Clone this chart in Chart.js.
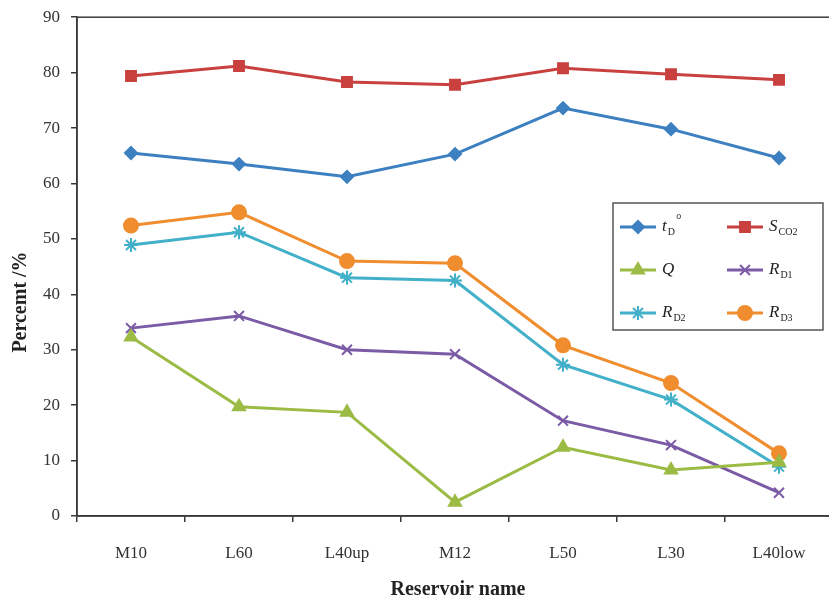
<!DOCTYPE html>
<html lang="en">
<head>
    <meta charset="UTF-8">
    <title>Reservoir percent chart</title>
    <script src="https://cdn.jsdelivr.net/npm/chart.js"></script>
    <style>
        html, body { margin: 0; padding: 0; background: #fff; overflow: hidden; }
        #wrap { width: 842px; height: 607px; margin-top: -4px; }
    </style>
</head>
<body>
    <div id="wrap"><canvas id="chart" width="842" height="607"></canvas></div>

    <script>
        // Data
        const reservoirs = ['M10', 'L60', 'L40up', 'M12', 'L50', 'L30', 'L40low'];
        const yTicks = [0, 10, 20, 30, 40, 50, 60, 70, 80, 90];

        const tD  = [65.5, 63.5, 61.2, 65.3, 73.6, 69.8, 64.6];
        const sCO2 = [79.4, 81.2, 78.3, 77.8, 80.8, 79.7, 78.7];
        const q   = [32.3, 19.7, 18.7, 2.5, 12.4, 8.3, 9.7];
        const rD1 = [33.9, 36.1, 30.0, 29.2, 17.2, 12.8, 4.2];
        const rD2 = [48.9, 51.2, 43.0, 42.5, 27.3, 21.0, 8.9];
        const rD3 = [52.4, 54.8, 46.0, 45.6, 30.8, 24.0, 11.3];

        // legend labels: [main letter, subscript, superscript]
        const legendLabels = [
            ['t', 'D', '°'], ['S', 'CO2', ''],
            ['Q', '', ''],   ['R', 'D1', ''],
            ['R', 'D2', ''], ['R', 'D3', '']
        ];

        const serif = '"Liberation Serif", "DejaVu Serif", serif';
        const dy = 4; // canvas is shifted up by this much

        function series(data, color, style, radius) {
            return {
                data: data,
                borderColor: color,
                backgroundColor: color,
                pointBackgroundColor: color,
                pointBorderColor: color,
                pointStyle: style,
                pointRadius: radius,
                pointBorderWidth: 2,
                borderWidth: 3,
                tension: 0
            };
        }

        const datasets = [
            series(tD,   '#3d80c1', 'rectRot', 6),
            series(sCO2, '#c8413f', 'rect', 7),
            series(q,    '#9bbb45', 'triangle', 7),
            series(rD1,  '#7b5ba6', 'crossRot', 7),
            series(rD2,  '#42b0c9', 'star', 7),
            series(rD3,  '#f08d2e', 'circle', 7)
        ];

        // frame, axis titles and the two column legend box
        const framePlugin = {
            id: 'frame',
            afterDraw(chart) {
                const ctx = chart.ctx;
                const a = chart.chartArea;
                ctx.save();
                ctx.strokeStyle = '#3a3a3a';
                ctx.lineWidth = 1.5;
                ctx.strokeRect(a.left, a.top, a.right - a.left, a.bottom - a.top);

                // axis titles
                ctx.fillStyle = '#222';
                ctx.textAlign = 'center';
                ctx.textBaseline = 'middle';
                ctx.font = 'bold 20px ' + serif;
                ctx.fillText('Reservoir name', 458, 590 + dy);
                ctx.save();
                ctx.translate(21, 302 + dy);
                ctx.rotate(-Math.PI / 2);
                ctx.fillText('Percemt /%', 0, 0);
                ctx.restore();

                // legend
                const bx = 613, by = 203 + dy, bw = 210, bh = 127;
                ctx.fillStyle = '#fff';
                ctx.fillRect(bx, by, bw, bh);
                ctx.strokeStyle = '#555';
                ctx.lineWidth = 1.5;
                ctx.strokeRect(bx, by, bw, bh);

                chart.data.datasets.forEach((ds, i) => {
                    const col = i % 2, row = Math.floor(i / 2);
                    const x0 = col === 0 ? 620 : 727;
                    const y = 227 + dy + row * 43;
                    ctx.strokeStyle = ds.borderColor;
                    ctx.fillStyle = ds.backgroundColor;
                    ctx.lineWidth = 3;
                    ctx.beginPath();
                    ctx.moveTo(x0, y);
                    ctx.lineTo(x0 + 36, y);
                    ctx.stroke();
                    ctx.lineWidth = 2;
                    Chart.helpers.drawPoint(ctx, {
                        pointStyle: ds.pointStyle,
                        radius: ds.pointRadius,
                        rotation: 0,
                        borderWidth: 2
                    }, x0 + 18, y);

                    const lab = legendLabels[i];
                    let tx = x0 + 42;
                    ctx.fillStyle = '#222';
                    ctx.textBaseline = 'middle';
                    ctx.textAlign = 'left';
                    ctx.font = 'italic 17px ' + serif;
                    ctx.fillText(lab[0], tx, y);
                    tx += ctx.measureText(lab[0]).width + 1;
                    if (lab[1]) {
                        ctx.font = '10px ' + serif;
                        ctx.fillText(lab[1], tx, y + 5);
                        tx += ctx.measureText(lab[1]).width + 1;
                    }
                    if (lab[2]) {
                        ctx.font = '14px ' + serif;
                        ctx.fillText(lab[2], tx, y - 7);
                    }
                });
                ctx.restore();
            }
        };

        new Chart(document.getElementById('chart'), {
            type: 'line',
            data: { labels: reservoirs, datasets: datasets },
            options: {
                responsive: false,
                animation: false,
                layout: { padding: { top: 12, right: 3, left: 0, bottom: 0 } },
                plugins: { legend: { display: false }, tooltip: { enabled: false } },
                scales: {
                    x: {
                        type: 'category',
                        offset: true,
                        grid: {
                            offset: true,
                            drawOnChartArea: false,
                            drawTicks: true,
                            tickLength: 6,
                            color: '#3a3a3a',
                            lineWidth: 1.5
                        },
                        border: { display: true, color: '#3a3a3a', width: 1.5 },
                        ticks: {
                            color: '#333',
                            padding: 21,
                            font: { family: serif, size: 17 }
                        },
                        afterFit(scale) { scale.height = 87; }
                    },
                    y: {
                        min: 0,
                        max: 90,
                        afterBuildTicks(scale) {
                            scale.ticks = yTicks.map(v => ({ value: v }));
                        },
                        grid: {
                            drawOnChartArea: false,
                            drawTicks: true,
                            tickLength: 6,
                            color: '#3a3a3a',
                            lineWidth: 1.5
                        },
                        border: { display: true, color: '#3a3a3a', width: 1.5 },
                        ticks: {
                            color: '#333',
                            padding: 11,
                            font: { family: serif, size: 17 }
                        },
                        afterFit(scale) { scale.width = 77; }
                    }
                }
            },
            plugins: [framePlugin]
        });
    </script>
</body>
</html>
